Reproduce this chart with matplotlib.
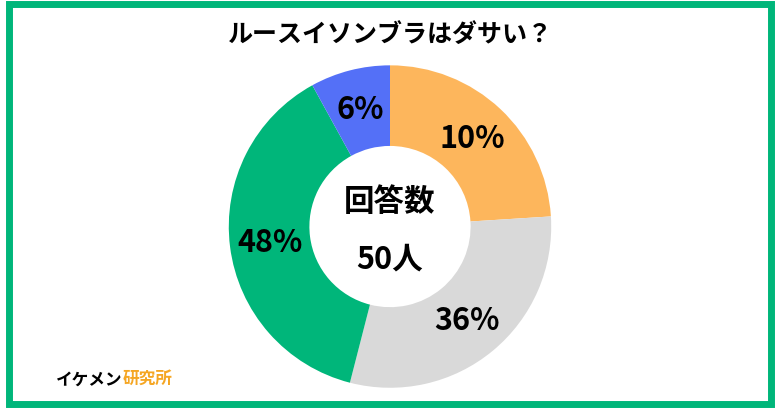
import numpy as np
import matplotlib.pyplot as plt
from matplotlib.patches import Rectangle

plt.rcParams['font.family'] = ['Noto Sans CJK JP', 'DejaVu Sans']

# slice sizes as drawn in the picture, labels as printed
sizes = [24, 30, 38, 8]
labels = ['10%', '36%', '48%', '6%']
colors = ['#FDB65C', '#D9D9D9', '#00B67A', '#5470F7']

fig = plt.figure(figsize=(7.8, 4.1), dpi=100)
fig.patches.append(Rectangle((0.012, 0.012), 0.976, 0.976, transform=fig.transFigure,
                             fill=False, edgecolor='#00B67A', linewidth=5))

fig.text(0.5, 0.915, 'ルースイソンブラはダサい？', ha='center', va='center',
         fontsize=18, fontweight='bold')

ax = fig.add_axes([0.5 - 0.405 * 410 / 780, 0.445 - 0.405, 0.81 * 410 / 780, 0.81])
wedges, _ = ax.pie(sizes, colors=colors, startangle=90, counterclock=False,
                   wedgeprops=dict(width=0.5, edgecolor='white', linewidth=0))
for w, lab in zip(wedges, labels):
    a = np.deg2rad((w.theta1 + w.theta2) / 2)
    ax.text(0.75 * np.cos(a), 0.75 * np.sin(a), lab, ha='center', va='center',
            fontsize=22, fontweight='bold')
ax.text(0, 0.16, '回答数', ha='center', va='center', fontsize=22, fontweight='bold')
ax.text(0, -0.2, '50人', ha='center', va='center', fontsize=22, fontweight='bold')
ax.set_xlim(-1.03, 1.03)
ax.set_ylim(-1.03, 1.03)
ax.set_aspect('equal')

t = fig.text(0.072, 0.075, 'イケメン', ha='left', va='center', fontsize=12, fontweight='bold')
fig.canvas.draw()
bb = t.get_window_extent().transformed(fig.transFigure.inverted())
fig.text(bb.x1, 0.075, '研究所', ha='left', va='center', fontsize=12,
         fontweight='bold', color='#F5A623')

fig.savefig('out.png', dpi=100)
